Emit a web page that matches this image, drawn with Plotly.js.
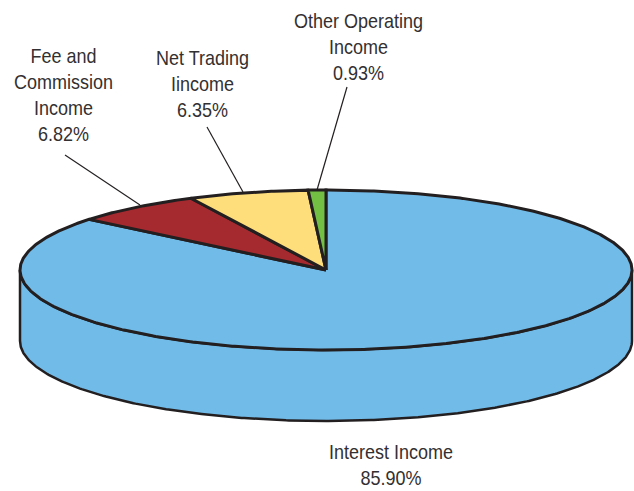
<!DOCTYPE html>
<html>
<head>
<meta charset="utf-8">
<script src="https://cdn.plot.ly/plotly-3.0.1.min.js"></script>
<style>
html,body{margin:0;padding:0;background:#fff}#chart{width:634px;height:491px}
.annotation-text{transform-box:fill-box;transform-origin:center;transform:scaleX(.9)}
</style>
</head>
<body>
<div id="chart"></div>
<script>
// Data
const categories = ["Interest Income", "Fee and Commission Income", "Net Trading Income", "Other Operating Income"];
const shares = [85.90, 6.82, 6.35, 0.93];
const colors = ["#71BBE9", "#A52A30", "#FEDD7B", "#72BF44"];
const labelLines = ["Interest Income", "Fee and<br>Commission<br>Income", "Net Trading<br>Iincome", "Other Operating<br>Income"];

// Geometry of the tilted disc, in the pixel-matched axis units
const cx = 326, cy = 270, rx = 306, ry = 80, depth = 71;
const ink = "#231F20";
const font = {family: "'Liberation Sans',Arial,sans-serif", size: 20, color: "#333031"};

function ellipse(deg, dy) {
  const a = deg * Math.PI / 180;
  return [cx + rx * Math.sin(a), cy - ry * Math.cos(a) + (dy || 0)];
}
function arc(from, to, dy) {
  const n = Math.max(2, Math.ceil(Math.abs(to - from) / 0.5));
  const xs = [], ys = [];
  for (let i = 0; i <= n; i++) {
    const p = ellipse(from + (to - from) * i / n, dy);
    xs.push(p[0]); ys.push(p[1]);
  }
  return [xs, ys];
}

const traces = [];
// Side wall: front half of the rim, extruded downward
const front = arc(90, 270, 0), low = arc(270, 90, depth);
traces.push({
  type: "scatter", mode: "lines", fill: "toself", fillcolor: colors[0],
  x: front[0].concat(low[0], [front[0][0]]),
  y: front[1].concat(low[1], [front[1][0]]),
  line: {color: ink, width: 2.5}, hoverinfo: "skip", showlegend: false
});
// Top face: one wedge for each share, clockwise from 12 o'clock
let start = 0;
shares.forEach((s, i) => {
  const end = start + s * 3.6;
  const a = arc(start, end, 0);
  traces.push({
    type: "scatter", mode: "lines", fill: "toself", fillcolor: colors[i], name: categories[i],
    x: [cx].concat(a[0], [cx]),
    y: [cy].concat(a[1], [cy]),
    line: {color: ink, width: 3, shape: "linear"}, hoverinfo: "name", showlegend: false
  });
  start = end;
});

const labelPos = [[391, 465], [63, 95], [202, 84], [358, 47]];
const annotations = categories.map((c, i) => ({
  x: labelPos[i][0], y: labelPos[i][1], xref: "x", yref: "y",
  text: labelLines[i] + "<br>" + shares[i].toFixed(2) + "%",
  showarrow: false, align: "center", xanchor: "center", yanchor: "middle", font: font
}));

function leader(x0, y0, x1, y1) {
  return {type: "line", xref: "x", yref: "y", x0, y0, x1, y1, line: {color: ink, width: 1.2}};
}
const layout = {
  width: 634, height: 491,
  margin: {l: 0, r: 0, t: 0, b: 0},
  paper_bgcolor: "#fff", plot_bgcolor: "#fff",
  showlegend: false,
  xaxis: {range: [0, 634], visible: false, fixedrange: true},
  yaxis: {range: [491, 0], visible: false, fixedrange: true},
  annotations: annotations,
  shapes: [leader(65, 155, 140, 205), leader(207, 127, 243, 192), leader(347, 87, 317, 190)]
};
Plotly.newPlot("chart", traces, layout, {displayModeBar: false, responsive: false});
</script>
</body>
</html>
